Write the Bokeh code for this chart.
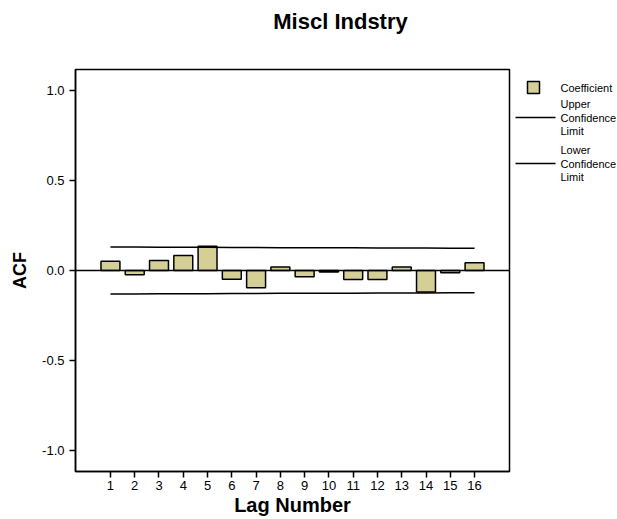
from bokeh.plotting import figure
from bokeh.layouts import column, row
from bokeh.models import Range1d, FixedTicker, Span
from bokeh.core.properties import value
from bokeh.embed import file_html
from bokeh.resources import INLINE

# ---- data ----
lags = list(range(1, 17))
acf = [0.052, -0.024, 0.056, 0.083, 0.135, -0.048, -0.096, 0.019,
       -0.035, -0.009, -0.050, -0.050, 0.020, -0.120, -0.013, 0.043]
upper = [0.130, 0.130, 0.129, 0.129, 0.129, 0.128, 0.128, 0.127,
         0.127, 0.126, 0.126, 0.125, 0.125, 0.125, 0.124, 0.124]
lower = [-0.130, -0.130, -0.129, -0.129, -0.129, -0.128, -0.128, -0.127,
         -0.127, -0.126, -0.126, -0.125, -0.125, -0.125, -0.124, -0.124]
y_ticks = [-1.0, -0.5, 0.0, 0.5, 1.0]
y_tick_labels = {-1.0: "-1.0", -0.5: "-0.5", 0.0: "0.0", 0.5: "0.5", 1.0: "1.0"}
title_text = "Miscl Indstry"
legend_labels = ["Coefficient", "Upper\nConfidence\nLimit", "Lower\nConfidence\nLimit"]

FONT = "Liberation Sans"
BAR_FILL = "#d4cf96"
W, H = 617, 519
TOP = 52        # height of the title strip
MAIN_W = 511    # width of the chart figure
B_TOP, B_BOTTOM = 17, 48   # borders around the chart frame
FRAME_TOP, FRAME_BOTTOM = TOP + B_TOP, H - B_BOTTOM

def bare(fig):
    fig.xgrid.visible = False
    fig.ygrid.visible = False
    fig.outline_line_color = None
    fig.background_fill_color = "white"
    fig.border_fill_color = "white"
    return fig

# ---- title strip (page pixel coordinates) ----
tfig = bare(figure(width=W, height=TOP, x_range=Range1d(0, W), y_range=Range1d(TOP, 0),
                   x_axis_location=None, y_axis_location=None,
                   output_backend="svg", toolbar_location=None, min_border=0))
tfig.text(x=[340], y=[21], text=[title_text], text_align="center", text_baseline="middle",
          text_font=value(FONT), text_font_size="22px", text_font_style="bold",
          text_color="black")

# ---- main chart ----
p = figure(width=MAIN_W, height=H - TOP,
           x_range=Range1d(-0.44, 17.44), y_range=Range1d(-1.117, 1.117),
           output_backend="svg", toolbar_location=None,
           min_border_left=75, min_border_right=2,
           min_border_top=B_TOP, min_border_bottom=B_BOTTOM)
p.xgrid.visible = False
p.ygrid.visible = False
p.outline_line_color = "black"
p.outline_line_width = 1.5
p.background_fill_color = "white"
p.border_fill_color = "white"

p.vbar(x=lags, top=acf, bottom=0, width=0.78,
       fill_color=BAR_FILL, line_color="black", line_width=1.5)
p.add_layout(Span(location=0, dimension="width", line_color="black", line_width=1.3))
p.line(lags, upper, line_color="black", line_width=1.5)
p.line(lags, lower, line_color="black", line_width=1.5)

for ax in (p.xaxis[0], p.yaxis[0]):
    ax.axis_line_color = "black"
    ax.axis_line_width = 1.5
    ax.major_tick_line_color = "black"
    ax.major_tick_line_width = 1.5
    ax.major_tick_out = 6
    ax.major_tick_in = 0
    ax.minor_tick_line_color = None
    ax.major_label_text_font = FONT
    ax.major_label_text_font_size = "13px"
    ax.major_label_text_color = "black"
    ax.axis_label_text_font = FONT
    ax.axis_label_text_font_style = "bold"
    ax.axis_label_text_color = "black"

p.xaxis.ticker = FixedTicker(ticks=lags)
p.xaxis.axis_label = "Lag Number"
p.xaxis.axis_label_text_font_size = "20px"
p.xaxis.axis_label_text_line_height = 1.0
p.xaxis.major_label_text_line_height = 1.0
p.xaxis.major_label_standoff = 3
p.xaxis.axis_label_standoff = 1

p.yaxis.ticker = FixedTicker(ticks=y_ticks)
p.yaxis.major_label_overrides = y_tick_labels
p.yaxis.axis_label = "ACF"
p.yaxis.axis_label_text_font_size = "18px"
p.yaxis.major_label_standoff = 5
p.yaxis.axis_label_standoff = 9

# ---- legend strip (page pixel coordinates, frame aligned with the chart frame) ----
lfig = bare(figure(width=W - MAIN_W, height=H - TOP,
                   x_range=Range1d(MAIN_W, W), y_range=Range1d(FRAME_BOTTOM, FRAME_TOP),
                   x_axis_location=None, y_axis_location=None,
                   output_backend="svg", toolbar_location=None,
                   min_border_left=0, min_border_right=0,
                   min_border_top=B_TOP, min_border_bottom=B_BOTTOM))
lfig.scatter(x=[533], y=[87], marker="square", size=12,
             fill_color=BAR_FILL, line_color="black", line_width=1.5)
lfig.segment(x0=[515, 515], y0=[117, 163], x1=[555, 555], y1=[117, 163],
             line_color="black", line_width=1.5)
line_h = 13.5
label_y = [87, 117, 163]
tx, ty, tt = [], [], []
for lab, yc in zip(legend_labels, label_y):
    parts = lab.split("\n")
    n = len(parts)
    for i, part in enumerate(parts):
        tx.append(560)
        ty.append(yc + (i - (n - 1) / 2) * line_h)
        tt.append(part)
lfig.text(x=tx, y=ty, text=tt, text_align="left", text_baseline="middle",
          text_font=value(FONT), text_font_size="11px", text_color="black")

layout = column(tfig, row(p, lfig, spacing=0), spacing=0)
open("out.html", "w").write(file_html(layout, INLINE))
